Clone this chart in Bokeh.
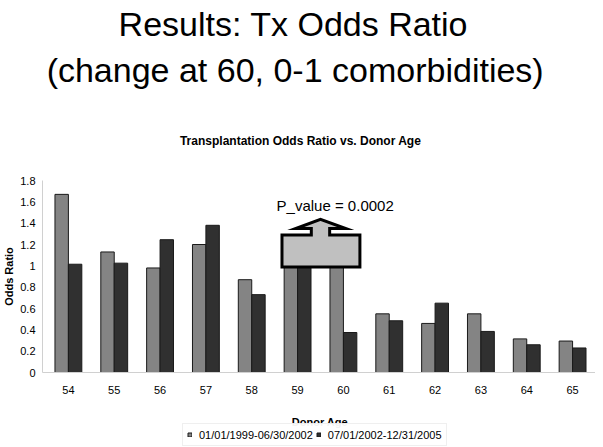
from bokeh.plotting import figure
from bokeh.layouts import column
from bokeh.models import (ColumnDataSource, Range1d, FixedTicker, Legend,
                          LegendItem, Label)
from bokeh.transform import dodge
from bokeh.embed import file_html
from bokeh.resources import INLINE

# ---- data ----
ages = [54, 55, 56, 57, 58, 59, 60, 61, 62, 63, 64, 65]
period1 = [1.67, 1.13, 0.98, 1.20, 0.87, 1.12, 1.06, 0.55, 0.46, 0.55, 0.315, 0.295]
period2 = [1.015, 1.025, 1.245, 1.38, 0.73, 1.10, 0.375, 0.485, 0.65, 0.385, 0.26, 0.23]
series_names = ["01/01/1999-06/30/2002", "07/01/2002-12/31/2005"]
y_ticks = [0, 0.2, 0.4, 0.6, 0.8, 1.0, 1.2, 1.4, 1.6, 1.8]
y_tick_labels = ["0", "0.2", "0.4", "0.6", "0.8", "1", "1.2", "1.4", "1.6", "1.8"]
title_line1 = "Results: Tx Odds Ratio"
title_line2 = "(change at 60, 0-1 comorbidities)"
chart_title = "Transplantation Odds Ratio vs. Donor Age"
x_title = "Donor Age"
y_title = "Odds Ratio"
annotation_text = "P_value = 0.0002"

FONT = "Liberation Sans"
C1 = "#848484"
C2 = "#303030"
W = 594
HEAD_H = 165
FOOT_H = 48

x_range = Range1d(53.435, 65.5)


def blank(height):
    f = figure(width=W, height=height, output_backend="svg", toolbar_location=None,
               x_range=x_range, y_range=Range1d(height, 0),
               x_axis_type=None, y_axis_type=None, min_border=0,
               outline_line_color=None, background_fill_color="white",
               border_fill_color="white")
    f.grid.visible = False
    f.title.visible = False
    return f


# ---- heading (slide titles + chart title) ----
head = blank(HEAD_H)
head.add_layout(Label(x=58.918, y=23, text=title_line1, text_align="center",
                      text_baseline="alphabetic", text_font=FONT,
                      text_font_size="34px", text_color="black"))
head.add_layout(Label(x=58.957, y=69.5, text=title_line2, text_align="center",
                      text_baseline="alphabetic", text_font=FONT,
                      text_font_size="34px", text_color="black"))
head.add_layout(Label(x=59.077, y=140, text=chart_title, text_align="center",
                      text_baseline="alphabetic", text_font=FONT,
                      text_font_size="12px", text_font_style="bold",
                      text_color="black"))

# ---- chart ----
src = ColumnDataSource(dict(age=ages, p1=period1, p2=period2))

p = figure(frame_width=553, frame_height=192, output_backend="svg",
           toolbar_location=None,
           x_range=x_range, y_range=Range1d(0, 1.8),
           min_border_left=41, min_border_right=0, min_border_top=15,
           min_border_bottom=28, background_fill_color="white",
           border_fill_color="white", outline_line_color=None)
p.title.visible = False

bw = 0.293
r1 = p.vbar(x=dodge("age", -bw / 2, range=p.x_range), top="p1", width=bw,
            source=src, fill_color=C1, line_color="#1a1a1a", line_width=1)
r2 = p.vbar(x=dodge("age", bw / 2, range=p.x_range), top="p2", width=bw,
            source=src, fill_color=C2, line_color="#1a1a1a", line_width=1)

# callout (annotation shape over ages 59-60)
cx = [58.66, 59.30, 59.30, 58.96, 59.50, 60.05, 59.70, 59.70, 60.36, 60.36, 58.66]
cy = [1.29, 1.29, 1.35, 1.35, 1.435, 1.35, 1.35, 1.29, 1.29, 0.99, 0.99]
p.patch(cx, cy, fill_color="#c0c0c0", line_color="black", line_width=3,
        line_join="miter")
p.add_layout(Label(x=59.82, y=1.565, text=annotation_text, text_align="center",
                   text_baseline="middle", text_font=FONT, text_font_size="15px",
                   text_color="black"))

p.xgrid.visible = False
p.ygrid.visible = False
p.xaxis.ticker = FixedTicker(ticks=ages)
p.yaxis.ticker = FixedTicker(ticks=y_ticks)
p.yaxis.major_label_overrides = {t: l for t, l in zip(y_ticks, y_tick_labels)}
for ax in (p.xaxis[0], p.yaxis[0]):
    ax.axis_line_color = "#d0d0d0"
    ax.major_tick_line_color = None
    ax.minor_tick_line_color = None
    ax.major_tick_out = 0
    ax.major_tick_in = 0
    ax.major_label_text_font = FONT
    ax.major_label_text_color = "black"
    ax.major_label_text_font_size = "11px"
    ax.axis_label_text_font = FONT
    ax.axis_label_text_font_style = "bold"
    ax.axis_label_text_font_size = "11px"
    ax.axis_label_text_color = "black"
p.yaxis.axis_label = y_title
p.xaxis.major_label_standoff = 13
p.yaxis.major_label_standoff = 7
p.yaxis.axis_label_standoff = 2

# ---- footer: x-axis title and legend ----
foot = blank(FOOT_H)
foot.add_layout(Label(x=59.498, y=21.5, text=x_title, text_align="center",
                      text_baseline="alphabetic", text_font=FONT,
                      text_font_size="11px", text_font_style="bold",
                      text_color="black"))
k1 = foot.vbar(x="age", top="p1", width=bw, source=src, fill_color=C1,
               line_color="#1a1a1a", visible=False)
k2 = foot.vbar(x="age", top="p2", width=bw, source=src, fill_color=C2,
               line_color="#1a1a1a", visible=False)
legend = Legend(items=[LegendItem(label=series_names[0], renderers=[k1]),
                       LegendItem(label=series_names[1], renderers=[k2])],
                orientation="horizontal", location=(140, 2),
                label_text_font=FONT, label_text_font_size="11px",
                label_text_color="black",
                glyph_width=5, glyph_height=5, label_standoff=7, spacing=3,
                padding=4, margin=0, border_line_color="#e0e0e0",
                label_height=13, background_fill_color="white",
                inactive_fill_alpha=0.0, click_policy="none")
foot.add_layout(legend, "center")

layout = column(head, p, foot, spacing=0)
open("out.html", "w").write(file_html(layout, INLINE))
